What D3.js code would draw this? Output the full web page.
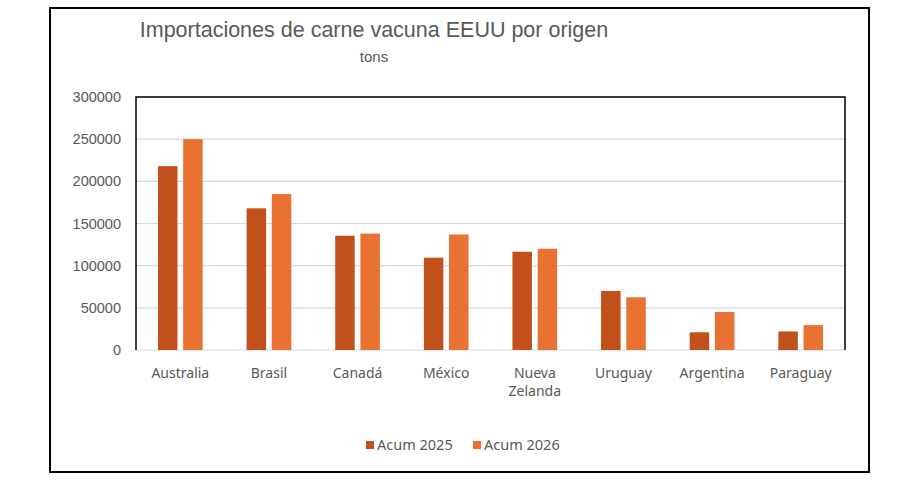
<!DOCTYPE html>
<html>
<head>
<meta charset="utf-8">
<script src="https://cdn.jsdelivr.net/npm/d3@7"></script>
<style>
  body { margin: 0; background: #fff; }
  svg text { fill: #595959; }
</style>
</head>
<body>
<div id="chart"></div>
<script>
// data
const countries = ["Australia", "Brasil", "Canadá", "México", "Nueva Zelanda", "Uruguay", "Argentina", "Paraguay"];
const seriesNames = ["Acum 2025", "Acum 2026"];
const acum2025 = [218000, 168000, 135500, 109500, 116500, 70000, 21000, 22000];
const acum2026 = [250000, 185000, 138000, 137000, 120000, 62500, 45000, 29500];
const yTicks = [0, 50000, 100000, 150000, 200000, 250000, 300000];

const colors = ["#C1501B", "#E97132"];

const svgWidth = 920;
const svgHeight = 481;
const plot = { left: 136, right: 845, top: 97, bottom: 350 };

const svg = d3.select("#chart").append("svg")
    .attr("width", svgWidth)
    .attr("height", svgHeight);

// outer frame
svg.append("rect")
    .attr("x", 50).attr("y", 8)
    .attr("width", 819).attr("height", 464)
    .attr("fill", "#fff")
    .attr("stroke", "#000")
    .attr("stroke-width", 2);

// titles
svg.append("text")
    .attr("x", 374).attr("y", 37)
    .attr("text-anchor", "middle")
    .style("font-family", "Liberation Sans, Arial, sans-serif")
    .style("font-size", "21.5px")
    .text("Importaciones de carne vacuna EEUU por origen");

svg.append("text")
    .attr("x", 374).attr("y", 62)
    .attr("text-anchor", "middle")
    .style("font-family", "Liberation Sans, Arial, sans-serif")
    .style("font-size", "15px")
    .text("tons");

// scales
const x0 = d3.scaleBand().domain(countries).range([plot.left, plot.right]).paddingInner(0).paddingOuter(0);
const y = d3.scaleLinear().domain([0, 300000]).range([plot.bottom, plot.top]);
const barW = 19.5, barGap = 5.7;

// gridlines
svg.append("g")
    .selectAll("line")
    .data(yTicks)
    .enter().append("line")
    .attr("x1", plot.left).attr("x2", plot.right)
    .attr("y1", d => y(d)).attr("y2", d => y(d))
    .attr("stroke", "#d9d9d9")
    .attr("stroke-width", 1.2);

// bars
const rows = countries.map((c, i) => ({ country: c, values: [acum2025[i], acum2026[i]] }));
const groups = svg.append("g").selectAll("g")
    .data(rows)
    .enter().append("g")
    .attr("transform", d => `translate(${x0(d.country) + x0.bandwidth() / 2},0)`);

groups.selectAll("rect")
    .data(d => d.values.map((v, j) => ({ v, j })))
    .enter().append("rect")
    .attr("x", d => d.j === 0 ? -barGap / 2 - barW : barGap / 2)
    .attr("y", d => y(d.v))
    .attr("width", barW)
    .attr("height", d => y(0) - y(d.v))
    .attr("fill", d => colors[d.j]);

// plot frame: black left, top, right
svg.append("path")
    .attr("d", `M${plot.left},${plot.bottom}V${plot.top}H${plot.right}V${plot.bottom}`)
    .attr("fill", "none")
    .attr("stroke", "#000")
    .attr("stroke-width", 1.5);

// y axis labels
const yAxis = svg.append("g")
    .attr("transform", `translate(${plot.left - 15},0)`)
    .call(d3.axisLeft(y).tickValues(yTicks).tickSize(0).tickPadding(0).tickFormat(d3.format("d")));
yAxis.select(".domain").remove();
yAxis.selectAll("text")
    .style("font-family", "Liberation Sans, Arial, sans-serif")
    .style("font-size", "14.5px")
    .style("fill", "#595959");

// x axis labels
const xAxis = svg.append("g")
    .attr("transform", `translate(0,${plot.bottom})`)
    .call(d3.axisBottom(x0).tickSize(0).tickPadding(0));
xAxis.select(".domain").remove();
xAxis.selectAll("text").remove();
xAxis.selectAll(".tick").each(function (d) {
    const words = d === "Nueva Zelanda" ? ["Nueva", "Zelanda"] : [d];
    const t = d3.select(this).append("text")
        .attr("text-anchor", "middle")
        .style("font-family", "Noto Sans, Open Sans, sans-serif")
        .style("font-size", "14px")
        .style("fill", "#595959");
    words.forEach((w, k) => {
        t.append("tspan").attr("x", 0).attr("y", 28 + k * 18).text(w);
    });
});

// legend
const legendX = [366, 473];
const legend = svg.append("g").selectAll("g")
    .data(seriesNames)
    .enter().append("g")
    .attr("transform", (d, i) => `translate(${legendX[i]},441)`);
legend.append("rect")
    .attr("width", 8).attr("height", 8)
    .attr("fill", (d, i) => colors[i]);
legend.append("text")
    .attr("x", 11).attr("y", 9)
    .style("font-family", "Noto Sans, Open Sans, sans-serif")
    .style("font-size", "14.5px")
    .style("fill", "#595959")
    .text(d => d);
</script>
</body>
</html>
